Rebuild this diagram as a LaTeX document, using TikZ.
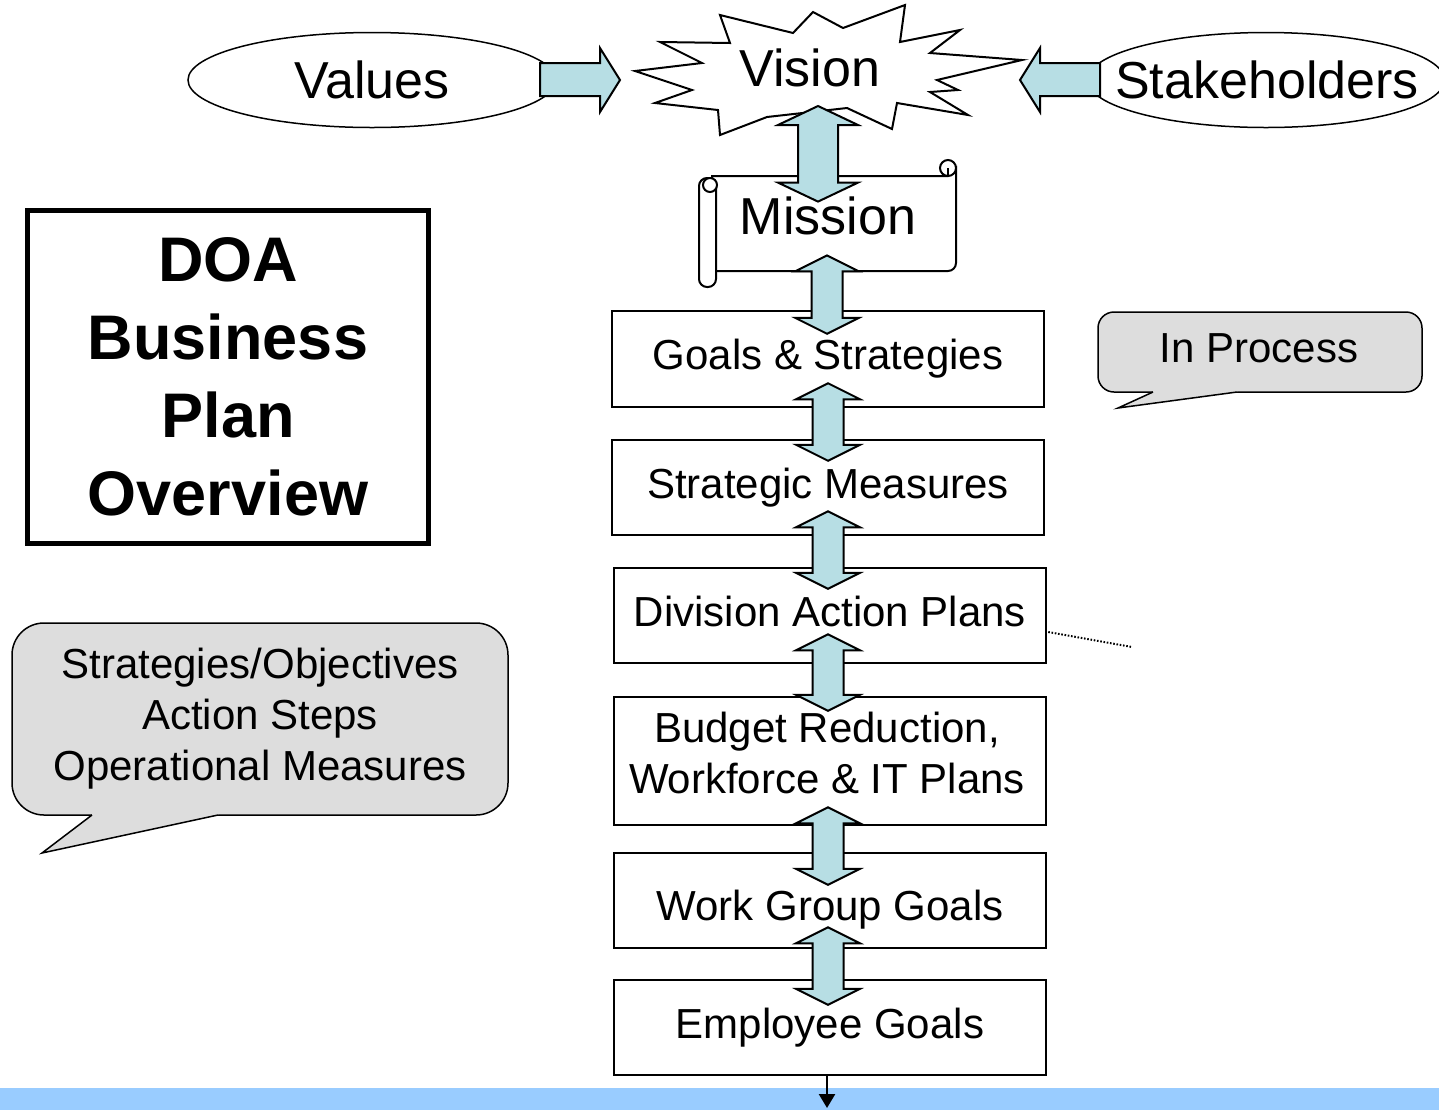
\documentclass[tikz,border=0pt]{standalone}
\usepackage{fontspec}
\setmainfont{Liberation Sans}
\usetikzlibrary{shapes.geometric,calc,arrows.meta}

\definecolor{arrowcyan}{RGB}{183,222,228}
\definecolor{calloutgray}{RGB}{221,221,221}
\definecolor{barblue}{RGB}{153,204,255}

% Fat two-headed block arrow between two points (top tip, bottom tip):
% #3 shaft half width, #4 head half width, #5 head length
\newcommand\fatlink[5]{%
  \path[fatarrow] let \p1=(#1), \p2=(#2) in
    (\x1,\y1) -- (\x1+#4,\y1-#5) -- (\x1+#3,\y1-#5) -- (\x1+#3,\y2+#5)
    -- (\x1+#4,\y2+#5) -- (\x1,\y2) -- (\x1-#4,\y2+#5) -- (\x1-#3,\y2+#5)
    -- (\x1-#3,\y1-#5) -- (\x1-#4,\y1-#5) -- cycle;}

\begin{document}
\begin{tikzpicture}[x=0.5pt,y=-0.5pt,
  ovalshape/.style={ellipse, draw=black, line width=0.75pt, fill=white,
    inner sep=0pt, minimum height=47.5pt},
  bigfont/.style={font=\fontsize{26}{31}\selectfont, inner sep=0pt},
  planfont/.style={font=\fontsize{21}{25.5}\selectfont},
  planbox/.style={draw=black, line width=1.25pt, fill=white,
    minimum width=216pt, minimum height=47.5pt, inner sep=0pt,
    planfont, text height=16pt, text depth=5.5pt},
  fatarrow/.style={fill=arrowcyan, draw=black, line width=1pt, line join=miter},
  calloutbody/.style={fill=calloutgray, draw=black, line width=0.75pt},
  calloutfont/.style={font=\fontsize{21}{25.5}\selectfont, align=center, inner sep=0pt},
  scrollpart/.style={fill=white, draw=black, line width=1pt}]

\useasboundingbox (0,0) rectangle (1439,1110);
\clip (0,0) rectangle (1439,1110);

% band along the bottom edge
\fill[barblue] (0,1088) rectangle (1439,1110);

% values and stakeholders ovals
\node[ovalshape, minimum width=184pt] (values) at (372,80) {};
\node[bigfont] (valuestext) at (values.center) {Values};
\node[ovalshape, minimum width=178.5pt] (stake) at (1266,80) {};
\node[bigfont] (staketext) at (1267,80) {Stakeholders};

% vision burst
\filldraw[fill=white, draw=black, line width=1pt, line join=miter]
  (635,71) -- (702,63) -- (660,42) -- (730,43) -- (720,15) -- (793,33)
  -- (813,12) -- (843,28) -- (905,5) -- (900,42) -- (960,30) -- (930,53)
  -- (1022,60) -- (937,80) -- (958,90) -- (930,92) -- (968,115) -- (897,103)
  -- (892,129) -- (847,108) -- (767,117) -- (720,135) -- (718,110)
  -- (655,103) -- (692,90) -- cycle;
\node[bigfont] (vision) at (810,68) {Vision};

% mission scroll
\node[minimum width=120pt, minimum height=47.5pt, inner sep=0pt] (mission) at (836,223.5) {};
\filldraw[scrollpart, rounded corners=4pt]
  (712,176) [sharp corners] -- (948,176) -- (956,168) [rounded corners=4pt]
  -- (956,271) -- (716,271) [sharp corners] -- (712,271) -- cycle;
\filldraw[scrollpart] (948,168) circle[radius=8];
\draw[line width=1pt] (948,168) -- (948,176) -- (942,176);
\filldraw[scrollpart, rounded corners=4pt] (699,178) rectangle (716,287);
\filldraw[scrollpart] (710,185) circle[radius=7];
\node[bigfont] (missiontext) at (828,216) {Mission};

% plan levels
\node[planbox, minimum height=48pt] (gs) at (828,359) {Goals \& Strategies};
\node[planbox] (sm) at (828,487.5) {Strategic Measures};
\node[planbox] (dap) at (830,615.5) {Division Action Plans};
\node[planbox, minimum height=64pt] (brw) at (830,761) {};
\node[planfont, align=center, inner sep=0pt] (brwtext) at ($(brw)+(-3,-8)$)
  {Budget Reduction,\\Workforce \& IT Plans};
\node[planbox, text height=25pt] (wgg) at (830,900.5) {Work Group Goals};
\node[planbox] (eg) at (830,1027.5) {Employee Goals};

% title box
\node[draw=black, line width=2.5pt, minimum width=200.5pt, minimum height=166.5pt,
  align=center, inner sep=0pt, font=\bfseries\fontsize{31.5}{39}\selectfont]
  (doa) at (228,377) {DOA\\Business\\Plan\\Overview};

% "In Process" callout
\filldraw[calloutbody, rounded corners=8pt] (1098,312) rectangle (1422,392);
\fill[calloutgray] (1153,389) -- (1237,389) -- (1237,392) -- (1118,408) -- (1153,392) -- cycle;
\draw[line width=0.75pt, line join=miter] (1153,392) -- (1118,408) -- (1237,392);
\node[calloutfont] (inproc) at (1259,348) {In Process};

% notes callout
\filldraw[calloutbody, rounded corners=16pt] (12,623) rectangle (508,815);
\fill[calloutgray] (92,812) -- (218,812) -- (218,815) -- (42,853) -- (92,815) -- cycle;
\draw[line width=0.75pt, line join=miter] (92,815) -- (42,853) -- (218,815);
\node[calloutfont] (notes) at (260,719) {Strategies/Objectives\\Action Steps\\Operational Measures};

% dotted pointer from the division plans
\coordinate (dotend) at (1132,647);
\draw[line width=1pt, dash pattern=on 0.8pt off 0.85pt] ($(dap.east)+(1,16.5)$) -- (dotend);

% block arrows into the vision
\path[fatarrow] (540,63) -- (600,63) -- (600,48) -- (620,80) -- (600,112)
  -- (600,96) -- (540,96) -- cycle;
\path[fatarrow] (1100,63) -- (1040,63) -- (1040,48) -- (1020,80) -- (1040,112)
  -- (1040,96) -- (1100,96) -- cycle;

% two-way links down the chain
\fatlink{$(vision)+(8,38)$}{$(mission.north)+(-18,26)$}{10pt}{20pt}{9.5pt}
\fatlink{$(mission.south)+(-9,-16)$}{$(gs.north)+(0,24)$}{7.75pt}{16pt}{8pt}
\fatlink{$(gs.south)+(0,-25)$}{$(sm.north)+(0,22)$}{7.75pt}{16pt}{8pt}
\fatlink{$(sm.south)+(0,-25)$}{$(dap.north)+(0,22)$}{7.75pt}{16pt}{8pt}
\fatlink{$(dap.south)+(-2,-30)$}{$(brw.north)+(0,15)$}{7.75pt}{16pt}{8pt}
\fatlink{$(brw.south)+(-2,-19)$}{$(wgg.north)+(0,33)$}{7.75pt}{16pt}{8pt}
\fatlink{$(wgg.south)+(-2,-22)$}{$(eg.north)+(0,26)$}{7.75pt}{16pt}{8pt}

% arrow down into the band
\coordinate (bandtip) at (827,1108);
\draw[line width=1.25pt, -{Triangle[length=7pt,width=8pt]}] (eg.south -| bandtip) -- (bandtip);

\end{tikzpicture}
\end{document}
